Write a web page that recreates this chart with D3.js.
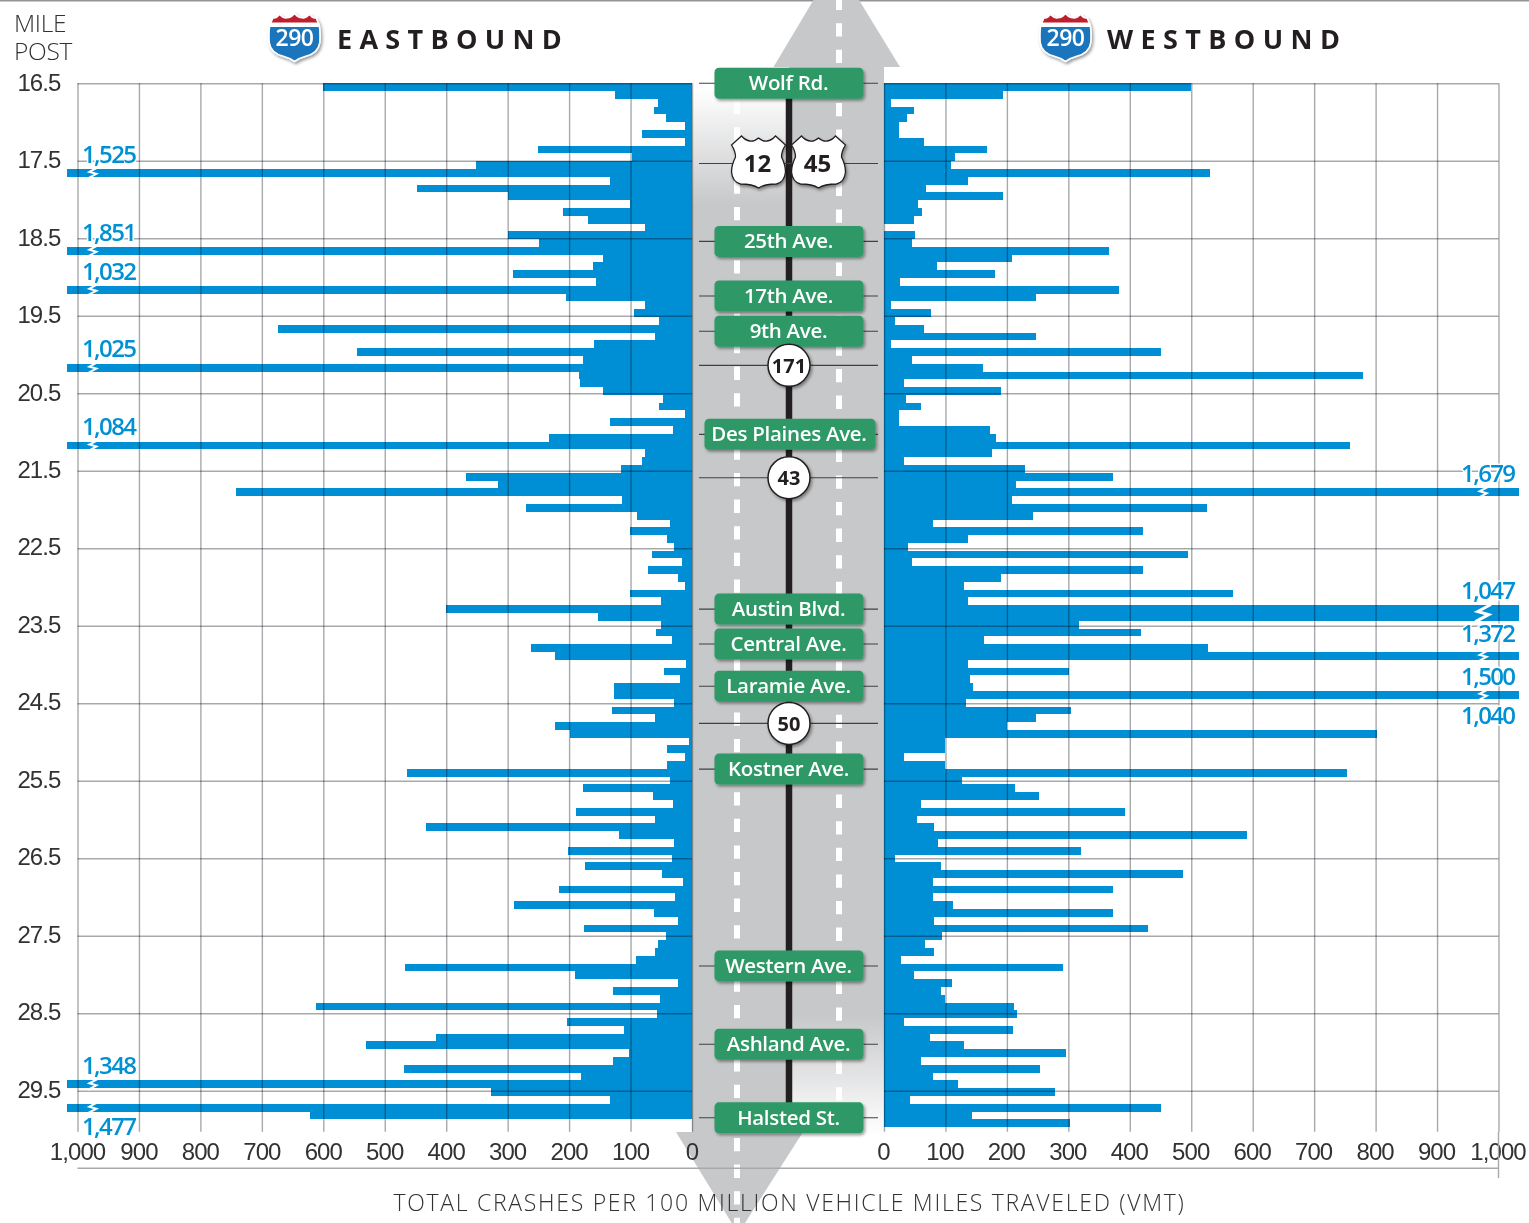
<!DOCTYPE html>
<html>
<head>
<meta charset="utf-8">
<title>I-290 crashes per 100 million VMT</title>
<script src="https://cdn.jsdelivr.net/npm/d3@7"></script>
<style>
  html, body { margin: 0; padding: 0; background: #fff; }
  svg { display: block; font-family: "Open Sans", sans-serif; }
  .grid line { stroke: #a7a9ac; stroke-width: 1.4; mix-blend-mode: multiply; }
  .grid path { display: none; }
  .grid text { fill: #333132; font-size: 24px; font-weight: 300; letter-spacing: -0.9px; }
  .sign-text { fill: #fff; font-size: 20.5px; font-weight: 600; text-anchor: middle; letter-spacing: -.3px; }
  .route-text { fill: #231f20; font-weight: 700; text-anchor: middle; }
  .break-label { fill: #0090d4; font-size: 24px; font-weight: 600; letter-spacing: -1.6px; stroke: #fff; stroke-width: 3px; paint-order: stroke; }
</style>
</head>
<body>
<div id="chart"></div>
<script>
// crashes per 100 million VMT, one value per 0.1 mile
const eastbound = [
  600, 125, 56, 62, 43, 12, 81, 12, 251, 98,
  351, 1525, 134, 448, 299, 101, 210, 169, 77, 299,
  249, 1851, 145, 161, 291, 156, 1032, 205, 77, 94,
  54, 674, 60, 159, 545, 177, 1025, 184, 182, 145,
  48, 54, 12, 134, 31, 232, 1084, 76, 82, 116,
  367, 316, 742, 114, 270, 89, 36, 101, 41, 30,
  65, 17, 71, 23, 12, 101, 50, 400, 153, 50,
  58, 33, 262, 223, 10, 46, 20, 127, 127, 30,
  130, 60, 223, 199, 5, 41, 12, 41, 464, 36,
  177, 63, 31, 188, 60, 433, 119, 30, 202, 32,
  174, 49, 15, 216, 28, 289, 62, 22, 176, 42,
  55, 60, 91, 467, 190, 22, 129, 52, 612, 57,
  204, 110, 416, 530, 102, 129, 468, 180, 1348, 327,
  134, 1477, 621
];
const westbound = [
  500, 194, 12, 49, 37, 25, 25, 65, 167, 115,
  109, 531, 137, 68, 193, 55, 62, 49, 0, 51,
  46, 366, 209, 87, 180, 26, 382, 247, 12, 77,
  18, 65, 247, 12, 450, 46, 161, 779, 33, 191,
  36, 61, 25, 25, 172, 182, 758, 175, 33, 229,
  372, 215, 1679, 209, 526, 243, 79, 422, 137, 39,
  495, 46, 422, 191, 131, 568, 137, 1047, 1040, 317,
  418, 163, 527, 1372, 136, 301, 140, 145, 1500, 133,
  304, 247, 200, 802, 99, 99, 33, 99, 754, 127,
  213, 253, 60, 393, 54, 81, 591, 88, 320, 18,
  92, 487, 80, 373, 80, 112, 372, 81, 429, 94,
  67, 82, 27, 291, 49, 111, 92, 99, 211, 217,
  33, 210, 75, 131, 296, 61, 254, 79, 120, 279,
  42, 451, 143, 302
];

// row each off-scale number sits on, in the order of the off-scale bars
const eastLabelRows = [9, 19, 24, 34, 44, 126, 133.75];
const westLabelRows = [50, 65, 81, 70.5, 76];

const crashTicks = d3.range(0, 1001, 100);
const mileTicks = d3.range(16.5, 30, 1);

const streetNames = ['Wolf Rd.', '25th Ave.', '17th Ave.', '9th Ave.', 'Des Plaines Ave.', 'Austin Blvd.',
  'Central Ave.', 'Laramie Ave.', 'Kostner Ave.', 'Western Ave.', 'Ashland Ave.', 'Halsted St.'];
const streetMiles = [16.5, 18.54, 19.245, 19.7, 21.03, 23.285, 23.735, 24.28, 25.35, 27.89, 28.9, 29.85];
const routeNames = ['171', '43', '50'];
const routeMiles = [20.14, 21.59, 24.76];
const usRouteMile = 17.535;

const width = 1529;
const height = 1223;
const rowHeight = 7.79;
const topY = 83.3;
const gridBottom = 1131.7;
const eastCap = 1017; // off-scale bars stop a little past the 1,000 gridline
const westCap = 1033;
const breakAt = 975;

const xEast = d3.scaleLinear().domain([0, 1000]).range([692, 77.5]);
const xWest = d3.scaleLinear().domain([0, 1000]).range([884, 1498.5]);
const yMile = d3.scaleLinear().domain([16.5, 29.5]).range([topY, 1090.7]);
const yRow = d3.scaleLinear().domain([0, westbound.length])
  .range([topY, topY + westbound.length * rowHeight]);

const svg = d3.select('#chart').append('svg')
  .attr('width', width)
  .attr('height', height)
  .attr('viewBox', '0 0 ' + width + ' ' + height);

const defs = svg.append('defs');

const shadow = defs.append('filter').attr('id', 'shadow')
  .attr('x', '-20%').attr('y', '-20%').attr('width', '140%').attr('height', '150%');
shadow.append('feDropShadow')
  .attr('dx', 1.5).attr('dy', 2).attr('stdDeviation', 1.8)
  .attr('flood-color', '#000').attr('flood-opacity', 0.4);

function addFade(id, y1, y2, c1, c2) {
  const g = defs.append('linearGradient').attr('id', id)
    .attr('gradientUnits', 'userSpaceOnUse')
    .attr('x1', 0).attr('x2', 0).attr('y1', y1).attr('y2', y2);
  g.append('stop').attr('offset', 0).attr('stop-color', c1);
  g.append('stop').attr('offset', 1).attr('stop-color', c2);
}
const roadGray = '#c7c8ca';
addFade('fadeTop', 88, 205, '#ffffff', roadGray);
addFade('fadeBottom', 1015, 1135, roadGray, '#ffffff');

// top rule
svg.append('line').attr('x1', 0).attr('x2', width).attr('y1', 0.5).attr('y2', 0.5)
  .attr('stroke', '#939598').attr('stroke-width', 2);

// the road, running both ways
const road = svg.append('g').attr('class', 'road');
road.append('rect').attr('x', 692).attr('y', 84).attr('width', 97).attr('height', 1050).attr('fill', 'url(#fadeTop)');
road.append('rect').attr('x', 789).attr('y', 66).attr('width', 95).attr('height', 1069).attr('fill', 'url(#fadeBottom)');
road.append('path').attr('d', 'M773.5,67 L813.5,0 L859,0 L900,67 Z').attr('fill', roadGray);
road.append('path').attr('d', 'M676,1132 L803,1132 L745,1223 L731.7,1223 Z').attr('fill', roadGray);

road.append('line').attr('x1', 737).attr('x2', 737).attr('y1', 84).attr('y2', height)
  .attr('stroke', '#fff').attr('stroke-width', 6).attr('stroke-dasharray', '13.3 13.3').attr('stroke-dashoffset', 10);
road.append('line').attr('x1', 839).attr('x2', 839).attr('y1', 0).attr('y2', 1135)
  .attr('stroke', '#fff').attr('stroke-width', 6).attr('stroke-dasharray', '13.3 13.3').attr('stroke-dashoffset', 3.4);
road.append('line').attr('x1', 789).attr('x2', 789).attr('y1', 90).attr('y2', 1110)
  .attr('stroke', '#231f20').attr('stroke-width', 6.5);

// bars
const barColor = '#008fd5';
svg.append('g').attr('shape-rendering', 'crispEdges')
  .selectAll('rect').data(eastbound).join('rect')
  .attr('x', d => xEast(Math.min(d, eastCap)))
  .attr('y', (d, i) => yRow(i))
  .attr('width', d => xEast(0) - xEast(Math.min(d, eastCap)))
  .attr('height', rowHeight)
  .attr('fill', barColor);
svg.append('g').attr('shape-rendering', 'crispEdges')
  .selectAll('rect').data(westbound).join('rect')
  .attr('x', xWest(0))
  .attr('y', (d, i) => yRow(i))
  .attr('width', d => xWest(Math.min(d, westCap)) - xWest(0))
  .attr('height', rowHeight)
  .attr('fill', barColor);

// gridlines go over the bars so they show through darker
const fmt = d3.format(',');
svg.append('g').attr('class', 'grid')
  .attr('transform', 'translate(0,' + gridBottom + ')')
  .call(d3.axisBottom(xEast).tickValues(crashTicks).tickFormat(fmt)
    .tickSize(topY - gridBottom).tickPadding(11))
  .selectAll('text').attr('dy', '0.32em').attr('y', 21).attr('x', -0.5);
svg.append('g').attr('class', 'grid')
  .attr('transform', 'translate(0,' + gridBottom + ')')
  .call(d3.axisBottom(xWest).tickValues(crashTicks).tickFormat(fmt)
    .tickSize(topY - gridBottom).tickPadding(11))
  .selectAll('text').attr('dy', '0.32em').attr('y', 21).attr('x', -1);
svg.append('g').attr('class', 'grid')
  .attr('transform', 'translate(' + xEast(0) + ',0)')
  .call(d3.axisLeft(yMile).tickValues(mileTicks).tickFormat(d3.format('.1f'))
    .tickSize(xEast(0) - xEast(1000)).tickPadding(17))
  .selectAll('text').attr('dy', '0.28em');
svg.append('g').attr('class', 'grid')
  .attr('transform', 'translate(' + xWest(0) + ',0)')
  .call(d3.axisRight(yMile).tickValues(mileTicks).tickFormat('')
    .tickSize(xWest(1000) - xWest(0)));

// bottom rule under the tick labels
svg.append('line').attr('x1', xEast(1000)).attr('x2', xWest(1000)).attr('y1', 1168.3).attr('y2', 1168.3)
  .attr('stroke', '#a7a9ac').attr('stroke-width', 1.4);
svg.append('line').attr('x1', xWest(1000)).attr('x2', xWest(1000)).attr('y1', gridBottom).attr('y2', 1178)
  .attr('stroke', '#a7a9ac').attr('stroke-width', 1.4);

// break marks and the off-scale numbers
const bolt = 'M5,-5.5 L-3.5,-1 L3.5,1 L-5,5.5';
function drawBreaks(values, x, labelRows, isEast) {
  const rows = values.map((d, i) => [d, i]).filter(d => d[0] > 1000);
  // two off-scale rows side by side share one bigger mark
  const bolts = rows.filter(d => !(values[d[1] - 1] > 1000));
  svg.append('g').selectAll('path').data(bolts).join('path')
    .attr('d', bolt)
    .attr('transform', d => {
      const span = values[d[1] + 1] > 1000 ? 2 : 1;
      return 'translate(' + x(breakAt) + ',' + (yRow(d[1]) + span * rowHeight / 2) + ') scale(' + (span > 1 ? 1.55 : 1) + ')';
    })
    .attr('fill', 'none')
    .attr('stroke', '#fff')
    .attr('stroke-width', 2);
  svg.append('g').selectAll('text').data(rows).join('text')
    .attr('class', 'break-label')
    .attr('x', x(1000) + (isEast ? 4.5 : 16))
    .attr('y', (d, i) => yRow(labelRows[i]) + rowHeight / 2 - 3)
    .attr('dy', '0.35em')
    .attr('text-anchor', isEast ? 'start' : 'end')
    .text(d => fmt(d[0]));
}
drawBreaks(eastbound, xEast, eastLabelRows, true);
drawBreaks(westbound, xWest, westLabelRows, false);

// cross-street ticks
const allMiles = streetMiles.concat(routeMiles, [usRouteMile]);
svg.append('g').selectAll('line').data(allMiles).join('line')
  .attr('x1', 699).attr('x2', 878)
  .attr('y1', d => yMile(d)).attr('y2', d => yMile(d))
  .attr('stroke', '#414042').attr('stroke-width', 1.1);

// street signs
const signs = svg.append('g').selectAll('g').data(streetNames).join('g')
  .attr('transform', (d, i) => 'translate(789,' + yMile(streetMiles[i]) + ')');
signs.append('rect')
  .attr('x', d => d.length > 14 ? -84.5 : -74.5)
  .attr('y', -15.5)
  .attr('width', d => d.length > 14 ? 171 : 149)
  .attr('height', 31)
  .attr('rx', 4.5)
  .attr('fill', '#2f9966')
  .attr('filter', 'url(#shadow)');
signs.append('text').attr('class', 'sign-text')
  .attr('x', d => d.length > 14 ? 0 : -0.5)
  .attr('dy', '0.33em')
  .text(d => d);

// state route circles
const circles = svg.append('g').selectAll('g').data(routeNames).join('g')
  .attr('transform', (d, i) => 'translate(789,' + yMile(routeMiles[i]) + ')');
circles.append('circle').attr('r', 21).attr('fill', '#fff')
  .attr('stroke', '#231f20').attr('stroke-width', 1.5)
  .attr('filter', 'url(#shadow)');
circles.append('text').attr('class', 'route-text')
  .attr('dy', '0.36em').style('font-size', '20px').text(d => d);

// US route shields
const usShield = 'M0,-24 Q5,-20 8.5,-21 Q13,-21.5 17,-26 L27,-17 Q23,-11 23,-5 Q27,3 27,10 Q26,20 18,22 ' +
  'Q6,22 0,26 Q-6,22 -18,22 Q-26,20 -27,10 Q-27,3 -23,-5 Q-23,-11 -27,-17 L-17,-26 Q-13,-21.5 -8.5,-21 Q-5,-20 0,-24 Z';
const usRoutes = svg.append('g').selectAll('g').data(['12', '45']).join('g')
  .attr('transform', (d, i) => 'translate(' + (i ? 818.5 : 758.5) + ',' + (yMile(usRouteMile) - 1.5) + ')');
usRoutes.append('path').attr('d', usShield).attr('fill', '#fff')
  .attr('stroke', '#231f20').attr('stroke-width', 1.3)
  .attr('filter', 'url(#shadow)');
usRoutes.append('text').attr('class', 'route-text')
  .attr('x', -1).attr('y', 1).attr('dy', '0.36em').style('font-size', '24px').text(d => d);

// interstate shields
const intShield = 'M-24,-12 L-21,-19 Q-18,-18 -15,-22 Q-11,-18 -7.5,-19 Q-3,-19 0,-23 Q3,-19 7.5,-19 Q11,-18 15,-22 Q18,-18 21,-19 L24,-12 ' +
  'Q25.5,-2 24.5,5 Q23,15 11,18 Q4,20 0,23 Q-4,20 -11,18 Q-23,15 -24.5,5 Q-25.5,-2 -24,-12 Z';
defs.append('clipPath').attr('id', 'intClip').append('path').attr('d', intShield);
const shields = svg.append('g').selectAll('g').data([294.5, 1065.5]).join('g')
  .attr('transform', d => 'translate(' + d + ',37.5)');
shields.append('path').attr('d', intShield).attr('fill', '#fff')
  .attr('stroke', '#fff').attr('stroke-width', 3).attr('filter', 'url(#shadow)');
const clipped = shields.append('g').attr('clip-path', 'url(#intClip)');
clipped.append('rect').attr('x', -27).attr('y', -10.5).attr('width', 54).attr('height', 36).attr('fill', '#1a75bc');
clipped.append('rect').attr('x', -27).attr('y', -25).attr('width', 54).attr('height', 10).attr('fill', '#be1e2d');
shields.append('text').attr('text-anchor', 'middle').attr('y', 8.5)
  .attr('fill', '#fff').style('font-size', '23px').style('font-weight', 600).style('letter-spacing', '-.5px')
  .text('290');

// headings
svg.append('text').attr('x', 337).attr('y', 49)
  .style('font-size', '27px').style('font-weight', 700).style('letter-spacing', '7.3px').attr('fill', '#231f20')
  .text('EASTBOUND');
svg.append('text').attr('x', 1107).attr('y', 49)
  .style('font-size', '27px').style('font-weight', 700).style('letter-spacing', '7.4px').attr('fill', '#231f20')
  .text('WESTBOUND');

const milePost = svg.append('text').attr('y', 32)
  .style('font-size', '24.5px').style('font-weight', 300).style('letter-spacing', '-0.3px').attr('fill', '#333132');
milePost.append('tspan').attr('x', 14).text('MILE');
milePost.append('tspan').attr('x', 14).attr('dy', 28).text('POST');

svg.append('text').attr('x', 789.5).attr('y', 1211).attr('text-anchor', 'middle')
  .style('font-size', '23px').style('font-weight', 300).style('letter-spacing', '1.7px').attr('fill', '#333132')
  .text('TOTAL CRASHES PER 100 MILLION VEHICLE MILES TRAVELED (VMT)');
</script>
</body>
</html>
